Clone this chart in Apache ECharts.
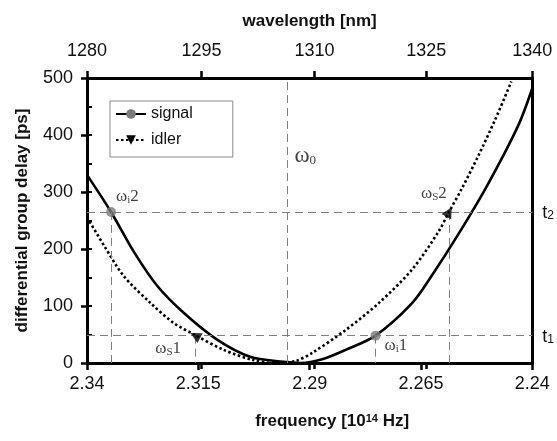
<!DOCTYPE html>
<html>
<head>
<meta charset="utf-8">
<script src="https://cdn.jsdelivr.net/npm/echarts@6/dist/echarts.min.js"></script>
<style>
  html, body { margin: 0; padding: 0; background: #fff; }
  #main { width: 557px; height: 441px; }
</style>
</head>
<body>
<div id="main"></div>
<script>
// curves
const signalFreq = [2.34, 2.3346, 2.3294, 2.3242, 2.3183, 2.3108, 2.3034, 2.2959, 2.2920, 2.2870, 2.2819, 2.2752, 2.2670, 2.2626, 2.2566, 2.2503, 2.2432, 2.24];
const signalDelay = [330, 265, 194, 135, 88, 41, 11, 2, 0, 7, 23, 48, 105, 153, 226, 309, 416, 482];
const idlerFreq = [2.34, 2.3361, 2.3317, 2.3257, 2.3205, 2.3157, 2.3093, 2.3026, 2.2975, 2.2930, 2.2894, 2.2819, 2.2745, 2.2670, 2.2611, 2.2587, 2.2559, 2.2521, 2.2484, 2.2447];
const idlerDelay = [256, 205, 152, 105, 70, 49, 23, 5, 0, 4, 18, 58, 105, 164, 230, 265, 305, 364, 426, 494];

// marked points
const signalMarkFreq = [2.3346, 2.2752];
const signalMarkDelay = [265, 48];
const signalMarkText = ['{w|ω}{s|i}{n|2}', '{w|ω}{s|i}{n|1}'];
const idlerMarkFreq = [2.3157, 2.2587];
const idlerMarkDelay = [48, 265];
const idlerMarkText = ['{w|ω}{s|S}{n|1}', '{w|ω}{s|S}{n|2}'];
const idlerMarkRotate = [62, -29];
const omega0 = 2.295;
const tLevels = [48, 265];
const tNames = ['1', '2'];

// ticks
const freqTicks = [2.34, 2.315, 2.29, 2.265, 2.24];
const wavelengthTicks = [1280, 1295, 1310, 1325, 1340];
const wavelengthPos = [2.34, 2.3143, 2.2889, 2.2638, 2.24];

const sans = 'Liberation Sans, Arial, sans-serif';
const serif = 'Liberation Serif, Times New Roman, serif';

const zip = (a, b) => a.map((v, i) => [v, b[i]]);

const omegaRich = {
  w: { fontFamily: serif, fontSize: 17, lineHeight: 19, verticalAlign: 'bottom', color: '#111' },
  s: { fontFamily: serif, fontSize: 11, lineHeight: 11, verticalAlign: 'bottom', color: '#111' },
  n: { fontFamily: serif, fontSize: 17, lineHeight: 19, verticalAlign: 'bottom', color: '#111' }
};

const signalOffsets = [[5, -16], [9, 9]];
const idlerOffsets = [[-40, 12], [-28, -19]];

const dash = { color: '#808080', width: 1, type: [8, 5] };

const guideLines = [];
tLevels.forEach(t => {
  guideLines.push([{ coord: [2.34, t] }, { coord: [2.24, t] }]);
});
signalMarkFreq.forEach((f, i) => {
  guideLines.push([{ coord: [f, signalMarkDelay[i]] }, { coord: [f, 0] }]);
});
idlerMarkFreq.forEach((f, i) => {
  guideLines.push([{ coord: [f, idlerMarkDelay[i]] }, { coord: [f, 0] }]);
});
guideLines.push([{ coord: [omega0, 0] }, { coord: [omega0, 500] }]);

const chart = echarts.init(document.getElementById('main'));
chart.setOption({
  animation: false,
  grid: { left: 87, right: 23, top: 78, bottom: 78 },
  legend: {
    data: ['signal', 'idler'],
    orient: 'vertical',
    left: 110,
    top: 101,
    padding: [4, 40, 8, 5],
    itemWidth: 30,
    itemHeight: 12,
    itemGap: 8,
    itemTextGap: 4,
    borderColor: '#8a8a8a',
    borderWidth: 1,
    textStyle: { fontFamily: sans, fontSize: 16, lineHeight: 18, color: '#111' }
  },
  xAxis: [
    {
      type: 'value', position: 'bottom', inverse: true, min: 2.24, max: 2.34,
      name: '{b|frequency [10}{u|14}{b| Hz]}',
      nameLocation: 'middle', nameGap: 50,
      nameTextStyle: {
        padding: [0, 0, 0, 45],
        rich: {
          b: { fontFamily: sans, fontSize: 17, fontWeight: 'bold', color: '#111', lineHeight: 20, verticalAlign: 'top' },
          u: { fontFamily: sans, fontSize: 11, fontWeight: 'bold', color: '#111', lineHeight: 11, verticalAlign: 'top' }
        }
      },
      axisLine: { show: true, onZero: false, lineStyle: { color: '#000', width: 3 } },
      axisTick: { show: true, customValues: freqTicks, length: 7, lineStyle: { color: '#000', width: 2.5 } },
      axisLabel: { customValues: freqTicks, fontFamily: sans, fontSize: 18, color: '#111', margin: 12 },
      splitLine: { show: false }
    },
    {
      type: 'value', position: 'top', inverse: true, min: 2.24, max: 2.34,
      name: 'wavelength [nm]',
      nameLocation: 'middle', nameGap: 48,
      nameTextStyle: { fontFamily: sans, fontSize: 17, fontWeight: 'bold', color: '#111' },
      axisLine: { show: true, onZero: false, lineStyle: { color: '#000', width: 3 } },
      axisTick: { show: true, customValues: wavelengthPos, length: 7, lineStyle: { color: '#000', width: 2.5 } },
      axisLabel: {
        customValues: wavelengthPos, fontFamily: sans, fontSize: 18, color: '#111', margin: 18,
        formatter: v => {
          const i = wavelengthPos.findIndex(p => Math.abs(p - v) < 1e-6);
          return i < 0 ? '' : String(wavelengthTicks[i]);
        }
      },
      splitLine: { show: false }
    },
    {
      type: 'value', position: 'top', inverse: true, min: 2.24, max: 2.34,
      axisLine: { show: false },
      axisTick: { show: true, inside: true, customValues: wavelengthPos, length: 6, lineStyle: { color: '#000', width: 2.5 } },
      axisLabel: { show: false },
      splitLine: { show: false }
    }
  ],
  yAxis: [
    {
      type: 'value', position: 'left', min: 0, max: 500, interval: 100,
      name: 'differential group delay [ps]',
      nameLocation: 'middle', nameGap: 56,
      nameTextStyle: { fontFamily: sans, fontSize: 17, fontWeight: 'bold', color: '#111' },
      axisLine: { show: true, onZero: false, lineStyle: { color: '#000', width: 3 } },
      axisTick: { show: true, length: 6, lineStyle: { color: '#000', width: 2.5 } },
      axisLabel: { fontFamily: sans, fontSize: 18, color: '#111', margin: 14 },
      splitLine: { show: false }
    },
    {
      type: 'value', position: 'right', min: 0, max: 500,
      axisLine: { show: true, onZero: false, lineStyle: { color: '#000', width: 3 } },
      axisTick: { show: false },
      axisLabel: {
        customValues: tLevels, margin: 10,
        formatter: v => {
          const i = tLevels.indexOf(v);
          return i < 0 ? '' : '{t|t}{s|' + tNames[i] + '}';
        },
        rich: {
          t: { fontFamily: sans, fontSize: 18, lineHeight: 20, verticalAlign: 'bottom', color: '#111' },
          s: { fontFamily: sans, fontSize: 12, lineHeight: 12, verticalAlign: 'bottom', color: '#111' }
        }
      },
      splitLine: { show: false }
    },
    {
      type: 'value', position: 'left', min: 0, max: 500, interval: 50,
      axisLine: { show: false },
      axisTick: { show: true, inside: true, length: 5, lineStyle: { color: '#000', width: 2 } },
      axisLabel: { show: false },
      splitLine: { show: false }
    }
  ],
  series: [
    {
      name: 'signal', type: 'line', xAxisIndex: 0, yAxisIndex: 0,
      data: zip(signalFreq, signalDelay),
      smooth: 0.3, symbol: 'circle', showSymbol: false, z: 3,
      lineStyle: { color: '#000', width: 2.6 },
      itemStyle: { color: '#7a7a7a' },
      markLine: {
        silent: true, symbol: 'none', label: { show: false },
        lineStyle: dash,
        data: guideLines
      }
    },
    {
      name: 'idler', type: 'line', xAxisIndex: 0, yAxisIndex: 0,
      data: zip(idlerFreq, idlerDelay),
      smooth: 0.3, symbol: 'triangle', symbolRotate: 180, showSymbol: false, z: 3,
      lineStyle: { color: '#000', width: 2.6, type: [2.5, 2.5] },
      itemStyle: { color: '#000' }
    },
    {
      type: 'scatter', xAxisIndex: 0, yAxisIndex: 0, z: 5, silent: true,
      symbol: 'circle', symbolSize: 10,
      itemStyle: { color: '#7a7a7a' },
      data: signalMarkFreq.map((f, i) => ({
        value: [f, signalMarkDelay[i]],
        label: {
          show: true, position: 'inside', align: 'left', verticalAlign: 'middle',
          offset: signalOffsets[i], formatter: signalMarkText[i], rich: omegaRich
        }
      }))
    },
    {
      type: 'scatter', xAxisIndex: 0, yAxisIndex: 0, z: 5, silent: true,
      symbol: 'triangle', symbolSize: 11,
      itemStyle: { color: '#000' },
      data: idlerMarkFreq.map((f, i) => ({
        value: [f, idlerMarkDelay[i]],
        symbolRotate: idlerMarkRotate[i],
        label: {
          show: true, position: 'inside', align: 'left', verticalAlign: 'middle',
          offset: idlerOffsets[i], formatter: idlerMarkText[i], rich: omegaRich
        }
      }))
    },
    {
      type: 'scatter', xAxisIndex: 0, yAxisIndex: 0, z: 5, silent: true,
      symbolSize: 0,
      data: [{
        value: [omega0, 370],
        label: {
          show: true, position: 'inside', align: 'left', verticalAlign: 'middle',
          offset: [7, 2], formatter: '{w|ω}{s|0}',
          rich: {
            w: { fontFamily: serif, fontSize: 23, lineHeight: 26, verticalAlign: 'bottom', color: '#111' },
            s: { fontFamily: serif, fontSize: 13, lineHeight: 9, verticalAlign: 'bottom', color: '#111' }
          }
        }
      }]
    }
  ]
});
</script>
</body>
</html>
